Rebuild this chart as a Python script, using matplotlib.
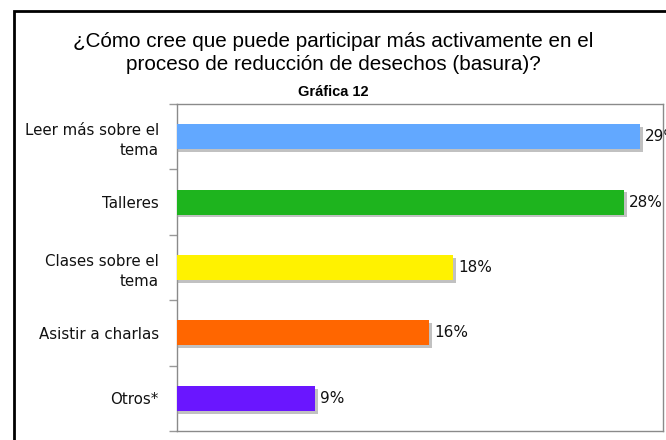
import matplotlib.pyplot as plt
import matplotlib.patheffects as pe
from matplotlib.patches import Rectangle

# Data
categories = ['Leer más sobre el\ntema', 'Talleres', 'Clases sobre el\ntema',
              'Asistir a charlas', 'Otros*']
values = [29, 28, 17.5, 16, 9]
value_labels = ['29%', '28%', '18%', '16%', '9%']
colors = ['#62A8FF', '#1EB41E', '#FFF200', '#FF6600', '#6A16FF']

fig = plt.figure(figsize=(6.66, 4.40), dpi=100)
ax = fig.add_axes([177 / 666, 1 - 431 / 440, 486 / 666, 327 / 440])

ypos = list(range(len(categories)))
bars = ax.barh(ypos, values, height=0.38, color=colors, zorder=3)
for b in bars:
    b.set_path_effects([pe.SimplePatchShadow(offset=(2, -2), shadow_rgbFace='#999999', alpha=0.6),
                        pe.Normal()])

for y, v, lab in zip(ypos, values, value_labels):
    ax.text(v + 0.3, y, lab, va='center', ha='left', fontsize=11,
            family='DejaVu Sans', color='#111111', clip_on=False)

ax.set_xlim(0.49, 30.4)
ax.set_ylim(len(categories) - 0.5, -0.5)
ax.set_xticks([])
ax.set_yticks(ypos)
ax.set_yticklabels(categories, fontsize=10.8, family='DejaVu Sans', color='#111111',
                   linespacing=1.4)
ax.tick_params(axis='y', which='major', length=0, pad=13)
ax.set_yticks([i - 0.5 for i in range(len(categories) + 1)], minor=True)
ax.tick_params(axis='y', which='minor', length=6, color='#999999', width=1)
for s in ax.spines.values():
    s.set_color('#8a8a8a')
    s.set_linewidth(1)

fig.text(0.5, 1 - 47 / 440, '¿Cómo cree que puede participar más activamente en el',
         ha='center', va='baseline', fontsize=14.85, family='Liberation Sans')
fig.text(0.5, 1 - 70 / 440, 'proceso de reducción de desechos (basura)?',
         ha='center', va='baseline', fontsize=14.85, family='Liberation Sans')
fig.text(0.5, 1 - 96 / 440, 'Gráfica 12', ha='center', va='baseline',
         fontsize=10.5, fontweight='bold', family='Liberation Sans')

# outer frame
fig.patches.append(Rectangle((14 / 666, -0.1), 1.2, 1 - 11 / 440 + 0.1,
                             transform=fig.transFigure, fill=False,
                             edgecolor='black', linewidth=2))

fig.savefig('out.png', dpi=100)
